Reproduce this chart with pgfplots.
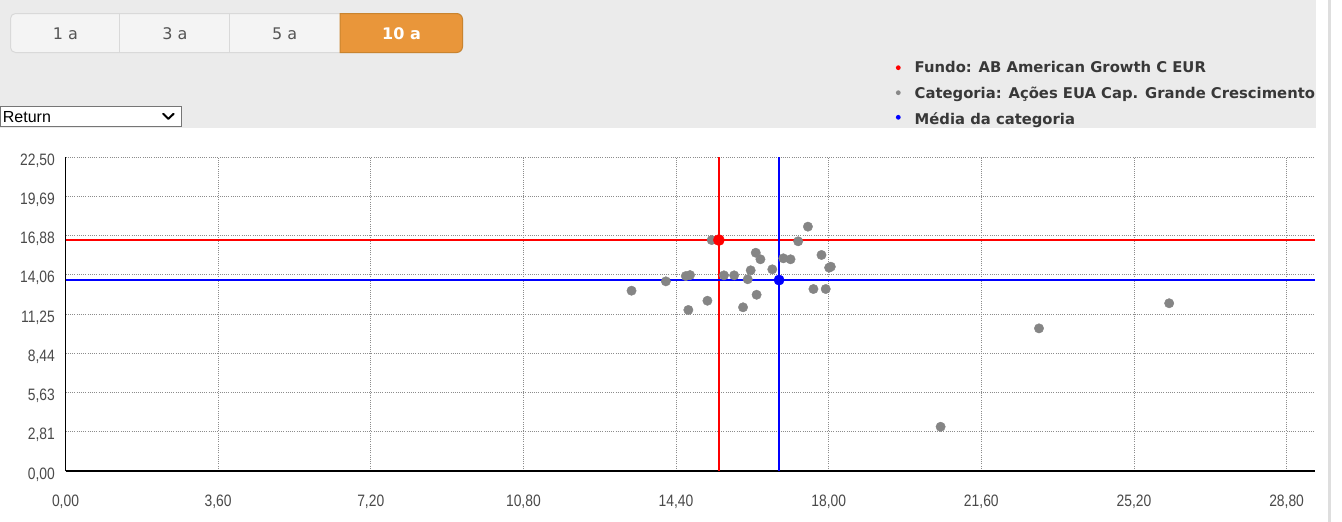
\documentclass[border=0pt]{standalone}
\usepackage{fontspec}
\usepackage{pgfplots}
\pgfplotsset{compat=1.18}
\setmainfont{DejaVu Sans}
\newfontfamily\tickfont[FakeStretch=0.84]{Liberation Sans}
\newfontfamily\ddfont{Liberation Sans}
\definecolor{bggray}{HTML}{EBEBEB}
\definecolor{sbgray}{HTML}{DEDEDE}
\definecolor{btnfill}{HTML}{F4F4F4}
\definecolor{btnborder}{HTML}{D9D9D9}
\definecolor{btntext}{HTML}{555555}
\definecolor{orangebtn}{HTML}{E9963A}
\definecolor{orangedark}{HTML}{C9842F}
\definecolor{legtext}{HTML}{383838}
\definecolor{legdot}{HTML}{888888}
\definecolor{ptgray}{HTML}{858585}
\definecolor{gridgray}{HTML}{8C8C8C}
\definecolor{tickgray}{HTML}{4A4A4A}
\definecolor{ddborder}{HTML}{767676}
\definecolor{linered}{HTML}{FF0000}
\definecolor{lineblue}{HTML}{0000FF}

\pgfplotstableread{
x y
13.35 12.92
14.16 13.59
14.63 13.97
14.73 14.04
14.69 11.54
15.14 12.20
15.24 16.55
15.53 14.02
15.77 14.02
15.98 11.73
16.09 13.74
16.16 14.38
16.28 15.64
16.30 12.63
16.39 15.17
16.67 14.45
16.93 15.24
17.10 15.17
17.28 16.46
17.51 17.51
17.64 13.04
17.83 15.48
17.93 13.04
18.01 14.57
18.05 14.64
20.64 3.17
22.96 10.22
26.03 12.02
}\categoria

\begin{document}
\begin{tikzpicture}
\useasboundingbox (0,0) rectangle (1342bp,-522bp);
\begin{scope}[x=1bp,y=-1bp]
\fill[white] (0,0) rectangle (1342,522);
\fill[bggray] (0,0) rectangle (1316,128);
\fill[sbgray] (1328,0) rectangle (1331,522);
% buttons
\draw[btnborder, fill=btnfill, rounded corners=5bp, line width=1bp] (10.5,13.5) rectangle (462.5,52.5);
\draw[btnborder, line width=1bp] (119.5,13.5) -- (119.5,52.5);
\draw[btnborder, line width=1bp] (229.5,13.5) -- (229.5,52.5);
\draw[fill=orangebtn, draw=orangedark, line width=1bp]
  (340,13.5) -- (456.5,13.5) arc[start angle=-90,end angle=0,radius=6]
  -- (462.5,46.5) arc[start angle=0,end angle=90,radius=6] -- (340,52.5) -- cycle;
\begin{scope}[font=\fontsize{16bp}{19bp}\selectfont]
\node[text=btntext, anchor=base, inner sep=0] at (65.3,39) {1 a};
\node[text=btntext, anchor=base, inner sep=0] at (175,39) {3 a};
\node[text=btntext, anchor=base, inner sep=0] at (284.7,39) {5 a};
\node[text=white, anchor=base, inner sep=0, font=\fontsize{16bp}{19bp}\selectfont\bfseries] at (401.5,39) {10 a};
\end{scope}
% dropdown
\draw[ddborder, fill=white, line width=1bp] (0,106) rectangle (181,126.5);
\node[anchor=base west, inner sep=0, font=\ddfont\fontsize{16bp}{19bp}\selectfont] at (2.7,122.3) {Return};
\draw[black, line width=2bp, line cap=round, line join=round] (163.2,113.8) -- (168.4,118.8) -- (173.6,113.8);
% legend
\fill[linered] (898.3,67.7) circle (2.4);
\fill[legdot] (898.3,92.7) circle (2.4);
\fill[lineblue] (898.3,117.3) circle (2.4);
\begin{scope}[font=\fontsize{14.8bp}{18bp}\selectfont\bfseries]
\node[anchor=base west, inner sep=0, text=legtext] at (914.5,72.7) {Fundo: AB American Growth C EUR};
\node[anchor=base west, inner sep=0, text=legtext] at (914.5,98.7) {Categoria: Ações EUA Cap. Grande Crescimento};
\node[anchor=base west, inner sep=0, text=legtext] at (914.5,124) {Média da categoria};
\end{scope}
\end{scope}

\begin{axis}[
  at={(65.5bp,-471bp)}, anchor=south west,
  scale only axis, width=1249.5bp, height=314bp,
  xmin=0, xmax=29.47, ymin=0, ymax=22.5,
  axis x line=bottom, axis y line=left,
  axis line style={black, line width=1.5bp, -},
  xtick={0,3.6,7.2,10.8,14.4,18,21.6,25.2,28.8},
  xticklabels={0{,}00,3{,}60,7{,}20,10{,}80,14{,}40,18{,}00,21{,}60,25{,}20,28{,}80},
  ytick={0,2.8125,5.625,8.4375,11.25,14.0625,16.875,19.6875,22.5},
  yticklabels={0{,}00,2{,}81,5{,}63,8{,}44,11{,}25,14{,}06,16{,}88,19{,}69,22{,}50},
  major tick length=0pt,
  grid=major,
  major grid style={gridgray, line width=0.9bp, dash pattern=on 1bp off 1.2bp},
  tick label style={font=\tickfont\fontsize{16.5bp}{19bp}\selectfont, text=tickgray, inner sep=0pt},
  xticklabel style={anchor=base, yshift=-35bp},
  yticklabel style={anchor=base east, xshift=-10.5bp, yshift=-8bp},
  /pgf/number format/assume math mode=true,
  clip=false,
]
\addplot[draw=ptgray, fill=ptgray, only marks, mark=*, mark size=4.7bp, mark options={draw=ptgray, fill=ptgray, line width=0.4bp}] table {\categoria};
\addplot[draw=linered, line width=1.6bp, no marks] coordinates {(15.41,0) (15.41,22.5)};
\addplot[draw=linered, line width=1.6bp, no marks] coordinates {(0,16.55) (29.47,16.55)};
\addplot[draw=lineblue, line width=1.6bp, no marks] coordinates {(16.83,0) (16.83,22.5)};
\addplot[draw=lineblue, line width=1.6bp, no marks] coordinates {(0,13.685) (29.47,13.685)};
\addplot[draw=linered, fill=linered, only marks, mark=*, mark size=5.6bp, mark options={draw=linered, fill=linered, line width=0.4bp}] coordinates {(15.41,16.55)};
\addplot[draw=lineblue, fill=lineblue, only marks, mark=*, mark size=5.2bp, mark options={draw=lineblue, fill=lineblue, line width=0.4bp}] coordinates {(16.83,13.685)};
\end{axis}
\end{tikzpicture}
\end{document}
